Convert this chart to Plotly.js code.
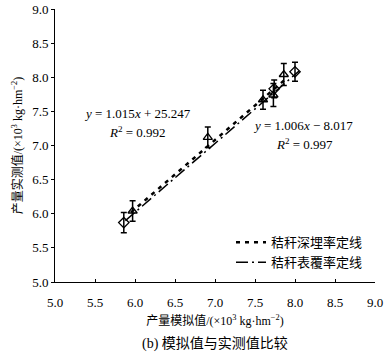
<!DOCTYPE html>
<html><head><meta charset="utf-8">
<script src="https://cdn.plot.ly/plotly-3.0.1.min.js"></script>
<style>html,body{margin:0;padding:0;background:#fff}#c{width:384px;height:355px}</style>
</head><body><div id="c"></div>
<script>
// data (x 10^3 kg/hm2)
const triX = [5.97, 6.91, 7.60, 7.73, 7.86];
const triY = [6.04, 7.12, 7.67, 7.74, 8.04];
const triErr = [0.15, 0.15, 0.14, 0.17, 0.16];
const diaX = [5.86, 7.74, 8.00];
const diaY = [5.87, 7.83, 8.08];
const diaErr = [0.15, 0.13, 0.14];
const deepLineX = [5.95, 7.90];
const deepLineY = [6.02, 7.99];
const coverLineX = [5.88, 8.05];
const coverLineY = [5.90, 8.09];
const xTicks = [5.0, 5.5, 6.0, 6.5, 7.0, 7.5, 8.0, 8.5, 9.0];
const yTicks = [5.0, 5.5, 6.0, 6.5, 7.0, 7.5, 8.0, 8.5, 9.0];
const legendNames = ['秸秆深埋率定线', '秸秆表覆率定线'];

const serif = 'Liberation Serif, Times New Roman, serif';
const cjk = 'Liberation Serif, Noto Sans CJK SC, serif';

const traces = [
  {x: deepLineX, y: deepLineY, mode: 'lines', name: legendNames[0],
   line: {color: '#000', width: 2.5, dash: '4px,5px'}},
  {x: coverLineX, y: coverLineY, mode: 'lines', name: legendNames[1],
   line: {color: '#000', width: 1.5, dash: '12px,4px,2px,4px'}},
  {x: triX, y: triY, mode: 'markers', showlegend: false,
   marker: {symbol: 'triangle-up-open', size: 8, color: '#000', line: {width: 1.3}},
   error_y: {type: 'data', array: triErr, color: '#000', thickness: 1.5, width: 3}},
  {x: diaX, y: diaY, mode: 'markers', showlegend: false,
   marker: {symbol: 'diamond-open', size: 8, color: '#000', line: {width: 1.3}},
   error_y: {type: 'data', array: diaErr, color: '#000', thickness: 1.5, width: 3}}
];

const layout = {
  width: 384, height: 355,
  margin: {l: 55, r: 9, t: 9, b: 73},
  paper_bgcolor: '#fff', plot_bgcolor: '#fff',
  showlegend: true,
  legend: {x: 0.55, y: 0.2, xanchor: 'left', yanchor: 'top', bgcolor: 'rgba(0,0,0,0)',
           font: {family: cjk, size: 13, color: '#000'}, tracegroupgap: 0, itemwidth: 30},
  xaxis: {range: [5.0, 9.0], tickvals: xTicks, ticktext: xTicks.map(v => v.toFixed(1)),
          showgrid: false, zeroline: false, showline: true, linecolor: '#000', linewidth: 1,
          ticks: 'inside', ticklen: 3, tickcolor: '#000', ticklabelstandoff: 8,
          tickfont: {family: serif, size: 13, color: '#000'},
          title: {text: '产量模拟值/(×10<sup>3</sup> kg·hm<sup>−2</sup>)', standoff: 8,
                  font: {family: cjk, size: 12, color: '#000'}}},
  yaxis: {range: [5.0, 9.0], tickvals: yTicks, ticktext: yTicks.map(v => v.toFixed(1)),
          showgrid: false, zeroline: false, showline: true, linecolor: '#000', linewidth: 1,
          ticks: 'outside', ticklen: 3, tickcolor: '#000',
          tickfont: {family: serif, size: 13, color: '#000'},
          title: {text: '产量实测值/(×10<sup>3</sup> kg·hm<sup>−2</sup>)', standoff: 6,
                  font: {family: cjk, size: 12, color: '#000'}}},
  annotations: [
    {x: 6.03, y: 7.47, xref: 'x', yref: 'y', showarrow: false,
     text: '<i>y</i> = 1.015<i>x</i> + 25.247', font: {family: serif, size: 13, color: '#000'}},
    {x: 6.03, y: 7.2, xref: 'x', yref: 'y', showarrow: false,
     text: '<i>R</i><sup>2</sup> = 0.992', font: {family: serif, size: 13, color: '#000'}},
    {x: 8.1, y: 7.29, xref: 'x', yref: 'y', showarrow: false,
     text: '<i>y</i> = 1.006<i>x</i> − 8.017', font: {family: serif, size: 13, color: '#000'}},
    {x: 8.12, y: 7.02, xref: 'x', yref: 'y', showarrow: false,
     text: '<i>R</i><sup>2</sup> = 0.997', font: {family: serif, size: 13, color: '#000'}},
    {x: 0.5, y: 0, xref: 'paper', yref: 'paper', yshift: -52, yanchor: 'top', showarrow: false,
     text: '(b) 模拟值与实测值比较', font: {family: cjk, size: 14, color: '#000'}}
  ]
};
Plotly.newPlot('c', traces, layout, {displayModeBar: false, staticPlot: true});
</script></body></html>
